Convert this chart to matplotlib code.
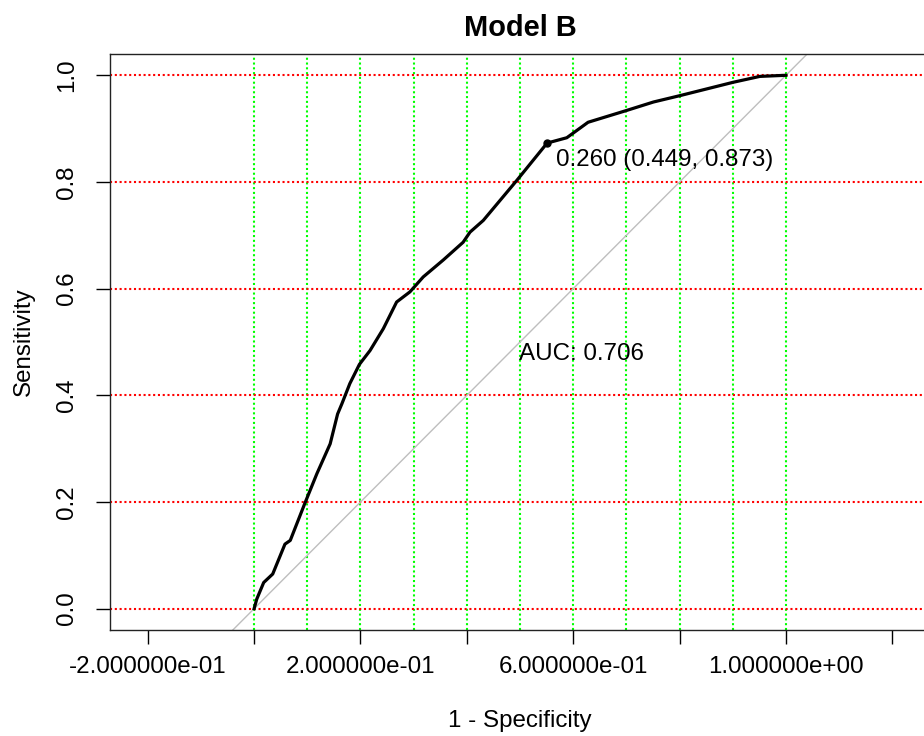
import matplotlib
matplotlib.use("Agg")
import matplotlib.pyplot as plt

plt.rcParams['font.family'] = ['Liberation Sans', 'DejaVu Sans']

# ROC curve (1 - specificity, sensitivity)
fpr = [0.0, 0.005, 0.018, 0.035, 0.058, 0.068, 0.096, 0.118, 0.143, 0.157,
       0.165, 0.180, 0.198, 0.218, 0.243, 0.268, 0.293, 0.318, 0.356, 0.393,
       0.406, 0.431, 0.494, 0.551, 0.588, 0.628, 0.700, 0.751, 0.801, 0.901,
       0.951, 0.998, 1.0]
tpr = [0.0, 0.018, 0.049, 0.065, 0.121, 0.128, 0.199, 0.253, 0.309, 0.365,
       0.384, 0.422, 0.458, 0.484, 0.525, 0.575, 0.594, 0.622, 0.654, 0.687,
       0.706, 0.728, 0.803, 0.873, 0.883, 0.912, 0.934, 0.950, 0.962, 0.987,
       0.998, 1.0, 1.0]

best_point = (0.551, 0.873)
best_label = "0.260 (0.449, 0.873)"
auc_label = "AUC: 0.706"

x_ticks = [-0.2, 0.0, 0.2, 0.4, 0.6, 0.8, 1.0, 1.2]
x_tick_labels = ["-2.000000e-01", "", "2.000000e-01", "", "6.000000e-01", "",
                 "1.000000e+00", ""]
y_ticks = [0.0, 0.2, 0.4, 0.6, 0.8, 1.0]
y_tick_labels = ["0.0", "0.2", "0.4", "0.6", "0.8", "1.0"]
grid_v = [0.0, 0.1, 0.2, 0.3, 0.4, 0.5, 0.6, 0.7, 0.8, 0.9, 1.0]
grid_h = [0.0, 0.2, 0.4, 0.6, 0.8, 1.0]

W, H = 924, 736
fig = plt.figure(figsize=(W / 100, H / 100), dpi=100)
ax = fig.add_axes([110 / W, (H - 630) / H, 820 / W, 576 / H])
ax.set_xlim(-0.271, 1.271)
ax.set_ylim(-0.04, 1.04)

fs = 17.4
dot = (0, (1.0, 1.3))
for gx in grid_v:
    ax.axvline(gx, color='#00FF00', lw=1.5, ls=dot, zorder=1)
for gy in grid_h:
    ax.axhline(gy, color='#FF0000', lw=1.5, ls=dot, zorder=1)

ax.axline((0, 0), slope=1, color='#BEBEBE', lw=1.0, zorder=2)
ax.plot(fpr, tpr, color='black', lw=2.3, zorder=3, solid_joinstyle='round')
ax.plot([best_point[0]], [best_point[1]], 'o', color='black', ms=5, zorder=4)

ax.text(0.568, 0.841, best_label, fontsize=fs, ha='left', va='center', zorder=5)
ax.text(0.498, 0.478, auc_label, fontsize=fs, ha='left', va='center', zorder=5)

ax.set_xticks(x_ticks)
ax.set_xticklabels(x_tick_labels)
ax.set_yticks(y_ticks)
ax.set_yticklabels(y_tick_labels, rotation=90, va='center')
ax.tick_params(axis='both', length=10, width=1.0, labelsize=fs, color='black')
ax.tick_params(axis='x', pad=9)
ax.tick_params(axis='y', pad=13)

for s in ax.spines.values():
    s.set_color('#222222')
    s.set_linewidth(1.0)

ax.set_title("Model B", fontsize=fs * 1.2, fontweight='bold', pad=13)
fig.text(520 / W, 1 - 727 / H, "1 - Specificity", fontsize=fs, ha='center', va='baseline')
fig.text(24 / W, 1 - 342 / H, "Sensitivity", fontsize=fs, ha='center', va='center', rotation=90)

fig.savefig("out.png", dpi=100)
